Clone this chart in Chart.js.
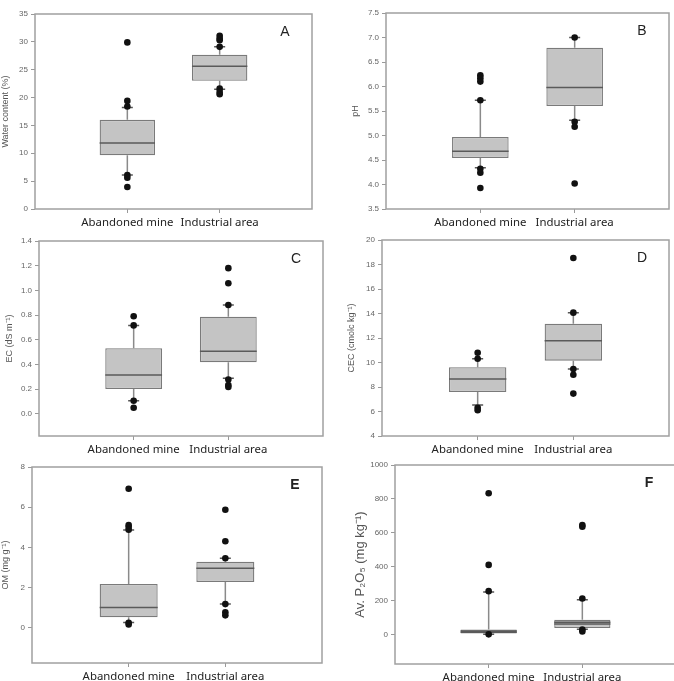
<!DOCTYPE html>
<html><head><meta charset="utf-8">
<script src="https://cdn.jsdelivr.net/npm/chart.js@4.4.1/dist/chart.umd.min.js"></script>
<style>
html,body{margin:0;padding:0;background:#fff;overflow:hidden;width:674px;height:681px;position:relative;}
.p{position:absolute;}
</style></head><body>
<script>
// ---------- DATA ----------
const categories = ['Abandoned mine', 'Industrial area'];
const panelLetters = ['A', 'B', 'C', 'D', 'E', 'F'];
const yTitles = ['Water content (%)', 'pH', 'EC (dS m⁻¹)', 'CEC (cmolc kg⁻¹)', 'OM (mg g⁻¹)', 'Av. P₂O₅ (mg kg⁻¹)'];
const yMins = [0, 3.5, -0.18, 4, -1.75, -175];
const yMaxs = [35, 7.5, 1.4, 20, 8, 1000];
const yTicksA = [0, 5, 10, 15, 20, 25, 30, 35];
const yTicksB = [3.5, 4.0, 4.5, 5.0, 5.5, 6.0, 6.5, 7.0, 7.5];
const yTicksC = [0.0, 0.2, 0.4, 0.6, 0.8, 1.0, 1.2, 1.4];
const yTicksD = [4, 6, 8, 10, 12, 14, 16, 18, 20];
const yTicksE = [0, 2, 4, 6, 8];
const yTicksF = [0, 200, 400, 600, 800, 1000];
const yTickDecimals = [0, 1, 1, 0, 0, 0];

// A: water content
const q1A = [9.65, 23.0], q3A = [16.0, 27.7], medianA = [11.85, 25.6];
const whiskerLowA = [6.1, 21.5], whiskerHighA = [18.2, 29.1];
const outliersMineA = [29.9, 19.4, 18.4, 6.1, 5.6, 3.95];
const outliersIndA = [31.1, 30.6, 30.3, 29.1, 21.6, 21.0, 20.6];
// B: pH
const q1B = [4.54, 5.60], q3B = [4.97, 6.79], medianB = [4.68, 5.98];
const whiskerLowB = [4.34, 5.31], whiskerHighB = [5.72, 7.0];
const outliersMineB = [6.23, 6.17, 6.10, 5.72, 4.32, 4.24, 3.93];
const outliersIndB = [7.0, 5.28, 5.18, 4.02];
// C: EC
const q1C = [0.20, 0.418], q3C = [0.532, 0.787], medianC = [0.315, 0.507];
const whiskerLowC = [0.106, 0.288], whiskerHighC = [0.716, 0.882];
const outliersMineC = [0.79, 0.716, 0.106, 0.049];
const outliersIndC = [1.18, 1.058, 0.882, 0.277, 0.233, 0.217];
// D: CEC
const q1D = [7.59, 10.15], q3D = [9.61, 13.17], medianD = [8.65, 11.78];
const whiskerLowD = [6.53, 9.47], whiskerHighD = [10.31, 14.07];
const outliersMineD = [10.80, 10.31, 6.31, 6.10];
const outliersIndD = [18.53, 14.07, 9.47, 9.0, 7.46];
// E: OM
const q1E = [0.52, 2.28], q3E = [2.18, 3.29], medianE = [1.01, 2.96];
const whiskerLowE = [0.27, 1.18], whiskerHighE = [4.87, 3.46];
const outliersMineE = [6.92, 5.11, 5.01, 4.88, 0.25, 0.17];
const outliersIndE = [5.87, 4.31, 3.46, 1.18, 0.77, 0.62];
// F: available P2O5
const q1F = [5, 38], q3F = [29, 87], medianF = [12, 61], meanF = [20, 71];
const whiskerLowF = [0, 30], whiskerHighF = [250, 205];
const outliersMineF = [833, 410, 255, 0];
const outliersIndF = [645, 636, 212, 28, 17];

const panelData = [
  {q1: q1A, q3: q3A, med: medianA, mean: null, wl: whiskerLowA, wh: whiskerHighA, o1: outliersMineA, o2: outliersIndA, ticks: yTicksA},
  {q1: q1B, q3: q3B, med: medianB, mean: null, wl: whiskerLowB, wh: whiskerHighB, o1: outliersMineB, o2: outliersIndB, ticks: yTicksB},
  {q1: q1C, q3: q3C, med: medianC, mean: null, wl: whiskerLowC, wh: whiskerHighC, o1: outliersMineC, o2: outliersIndC, ticks: yTicksC},
  {q1: q1D, q3: q3D, med: medianD, mean: null, wl: whiskerLowD, wh: whiskerHighD, o1: outliersMineD, o2: outliersIndD, ticks: yTicksD},
  {q1: q1E, q3: q3E, med: medianE, mean: null, wl: whiskerLowE, wh: whiskerHighE, o1: outliersMineE, o2: outliersIndE, ticks: yTicksE},
  {q1: q1F, q3: q3F, med: medianF, mean: meanF, wl: whiskerLowF, wh: whiskerHighF, o1: outliersMineF, o2: outliersIndF, ticks: yTicksF}
];

// ---------- LAYOUT (frame boxes in page px) ----------
const layout = [
  {col: 0, w: 337, L: 35, T: 14, R: 312, B: 209, titlePad: 0.6, titleSize: 9, letterBold: false},
  {col: 337, w: 337, L: 386, T: 13, R: 669, B: 209, titlePad: 13.6, titleSize: 9, letterBold: false},
  {col: 0, w: 337, L: 39, T: 241, R: 323, B: 436, titlePad: 4.6, titleSize: 9, letterBold: false},
  {col: 337, w: 337, L: 382, T: 240, R: 669, B: 436, titlePad: 9.6, titleSize: 9, letterBold: false},
  {col: 0, w: 337, L: 32, T: 467, R: 322, B: 663, titlePad: 0.6, titleSize: 9, letterBold: true},
  {col: 337, w: 345, L: 395, T: 465, R: 676, B: 664, titlePad: 15.5, titleSize: 13, letterBold: true}
];

// padded category axis: empty slots at both ends put the two groups at 1/3 and 2/3 of the frame
const xLabels = [''].concat(categories, ['']);

const boxExtras = {
  id: 'boxExtras',
  afterDatasetDraw(chart, args) {
    if (args.index !== 1) return;
    const d = chart.options.plugins.boxExtras.data;
    const ys = chart.scales.y;
    const meta = chart.getDatasetMeta(1);
    const ctx = chart.ctx;
    ctx.save();
    categories.forEach((c, i) => {
      const bar = meta.data[i + 1];
      const cx = bar.x, half = bar.width / 2;
      ctx.strokeStyle = '#8a8a8a'; ctx.lineWidth = 1.5;
      ctx.beginPath();
      ctx.moveTo(cx, ys.getPixelForValue(d.q3[i])); ctx.lineTo(cx, ys.getPixelForValue(d.wh[i]));
      ctx.moveTo(cx, ys.getPixelForValue(d.q1[i])); ctx.lineTo(cx, ys.getPixelForValue(d.wl[i]));
      ctx.stroke();
      ctx.strokeStyle = '#555'; ctx.lineWidth = 1.5;
      ctx.beginPath();
      [d.wh[i], d.wl[i]].forEach(v => {
        const py = ys.getPixelForValue(v);
        ctx.moveTo(cx - 5.5, py); ctx.lineTo(cx + 5.5, py);
      });
      ctx.stroke();
      ctx.strokeStyle = '#5a5a5a'; ctx.lineWidth = 1.5;
      ctx.beginPath();
      const pm = ys.getPixelForValue(d.med[i]);
      ctx.moveTo(cx - half, pm); ctx.lineTo(cx + half, pm);
      if (d.mean) {
        const pn = ys.getPixelForValue(d.mean[i]);
        ctx.moveTo(cx - half, pn); ctx.lineTo(cx + half, pn);
      }
      ctx.stroke();
    });
    ctx.restore();
  },
  afterDraw(chart) {
    const o = chart.options.plugins.boxExtras;
    const a = chart.chartArea, ctx = chart.ctx;
    ctx.save();
    ctx.strokeStyle = '#a0a0a0'; ctx.lineWidth = 1.5;
    ctx.strokeRect(a.left, a.top, a.right - a.left, a.bottom - a.top);
    ctx.fillStyle = '#222';
    ctx.font = (o.bold ? 'bold ' : '') + '14px "Liberation Sans"';
    ctx.textAlign = 'center'; ctx.textBaseline = 'middle';
    ctx.fillText(o.letter, a.right - 27, a.top + 18);
    ctx.restore();
  }
};

panelData.forEach((d, k) => {
  const lay = layout[k];
  const top = lay.T - 12;
  const h = (lay.B - lay.T) + 12 + 30;
  const div = document.createElement('div');
  div.className = 'p';
  div.style.left = lay.col + 'px'; div.style.top = top + 'px';
  div.style.width = lay.w + 'px'; div.style.height = h + 'px';
  const cv = document.createElement('canvas');
  cv.width = lay.w; cv.height = h;
  cv.style.width = lay.w + 'px'; cv.style.height = h + 'px';
  div.appendChild(cv);
  document.body.appendChild(div);

  const outlierPts = d.o1.map(v => ({x: categories[0], y: v})).concat(d.o2.map(v => ({x: categories[1], y: v})));
  const boxData = [null].concat(categories.map((c, i) => [d.q1[i], d.q3[i]]), [null]);

  new Chart(cv, {
    type: 'bar',
    data: {
      labels: xLabels,
      datasets: [
        {type: 'scatter', data: outlierPts, pointRadius: 3.3, pointBackgroundColor: '#111', pointBorderColor: '#111', pointBorderWidth: 0, showLine: false},
        {type: 'bar', data: boxData, backgroundColor: '#c4c4c4', borderColor: '#7a7a7a', borderWidth: 1.3, borderSkipped: false, barPercentage: 0.6, categoryPercentage: 1}
      ]
    },
    options: {
      responsive: false, animation: false,
      layout: {padding: {top: 12, right: lay.col + lay.w - lay.R, left: 0, bottom: 0}},
      plugins: {
        legend: {display: false}, tooltip: {enabled: false},
        boxExtras: {data: d, letter: panelLetters[k], bold: lay.letterBold}
      },
      scales: {
        x: {
          type: 'category', offset: false,
          afterBuildTicks: s => { s.ticks = categories.map((c, i) => ({value: i + 1})); },
          ticks: {callback: (v) => xLabels[v], font: {family: 'Noto Sans', size: 11.4}, color: '#222', padding: 3, maxRotation: 0, autoSkip: false},
          grid: {offset: false, drawOnChartArea: false, drawTicks: true, tickLength: 4, color: '#999'},
          border: {display: false},
          afterFit: s => { s.height = 30; }
        },
        y: {
          type: 'linear', min: yMins[k], max: yMaxs[k],
          afterBuildTicks: s => { s.ticks = d.ticks.map(v => ({value: v})); },
          ticks: {callback: v => Number(v).toFixed(yTickDecimals[k]), font: {family: 'Liberation Sans', size: 8}, color: '#666', padding: 3, autoSkip: false},
          grid: {drawOnChartArea: false, drawTicks: true, tickLength: 4, color: '#999'},
          border: {display: false},
          title: {display: true, text: yTitles[k], font: {family: 'Liberation Sans', size: lay.titleSize}, color: '#555', padding: {top: lay.titlePad, bottom: 0}},
          afterFit: s => { s.width = lay.L - lay.col; }
        }
      }
    },
    plugins: [boxExtras]
  });
});
</script>
</body></html>
